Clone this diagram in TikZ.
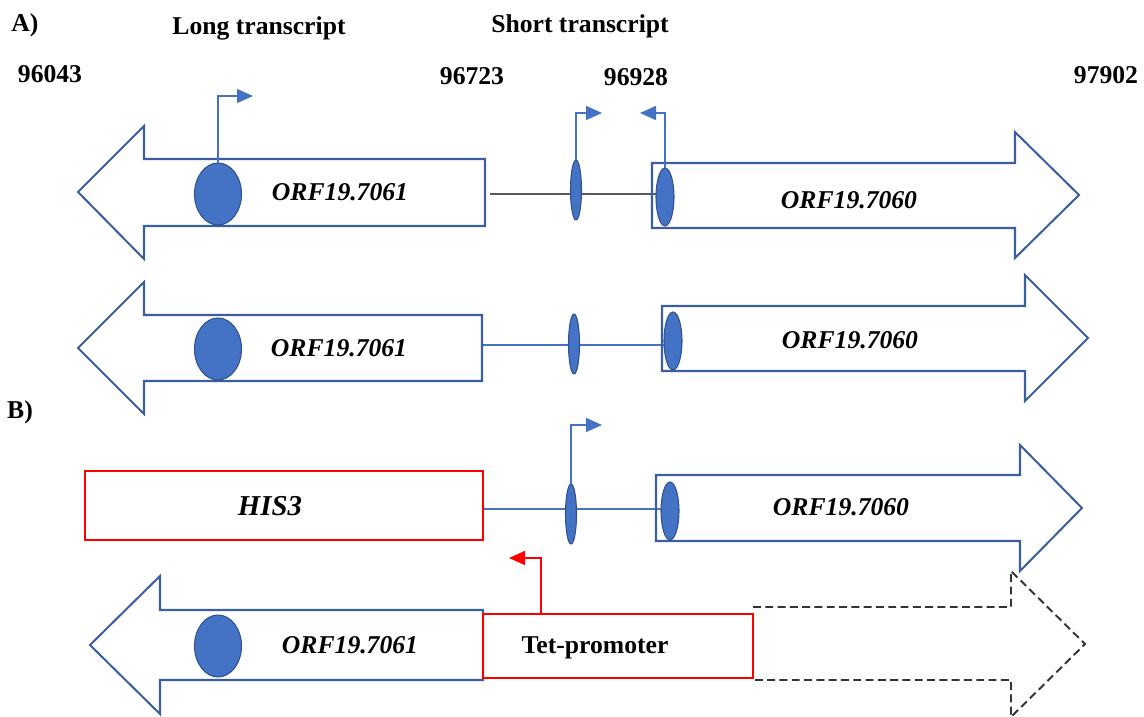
\documentclass[tikz,border=0pt]{standalone}
\usepackage{fontspec}
\setmainfont{Liberation Serif}
\usetikzlibrary{arrows.meta,shapes.geometric,backgrounds}
\definecolor{orfblue}{HTML}{3A5E9E}
\definecolor{dotblue}{HTML}{4472C4}
\definecolor{dotline}{HTML}{2F528F}
\definecolor{tetred}{HTML}{FF0000}

\begin{document}
\begin{tikzpicture}[x=0.02cm,y=-0.02cm,
	orf/.style={draw=orfblue,line width=1.15pt},
	ghost/.style={draw=black!80,line width=1.1pt,dash pattern=on 4.5pt off 2.5pt},
	redbox/.style={draw=tetred,line width=1.2pt},
	dot/.style={ellipse,fill=dotblue,draw=dotline,line width=0.6pt,inner sep=0pt,outer sep=0pt},
	bigdot/.style={dot,minimum width=0.94cm,minimum height=1.24cm},
	thindot/.style={dot,minimum width=0.22cm,minimum height=1.2cm},
	enddot/.style={dot,minimum width=0.36cm,minimum height=1.16cm},
	prom/.style={draw=dotblue,line width=0.9pt,-{Triangle[length=0.32cm,width=0.28cm]}},
	link/.style={draw=dotblue,line width=0.6pt},
	lbl/.style={font=\bfseries\fontsize{14.6}{17}\selectfont,inner sep=0pt,text height=9.6pt,text depth=0pt},
	orfname/.style={lbl,font=\bfseries\itshape\fontsize{14.6}{17}\selectfont}]
	\useasboundingbox (0,0) rectangle (1144,717);

	% labels and positions
	\node[lbl] (A) at (25,23) {A)};
	\node[lbl] (B) at (20,410) {B)};
	\node[lbl] (lt) at (259,26) {Long transcript};
	\node[lbl] (st) at (580,24) {Short transcript};
	\node[lbl] (n1) at (50,74) {96043};
	\node[lbl] (n2) at (472,76) {96723};
	\node[lbl] (n3) at (636,77) {96928};
	\node[lbl] (n4) at (1106,75) {97902};

	% row 1: wild type
	\draw[orf] (485,159) -- (144,159) -- (144,126) -- (78,192) -- (144,259) -- (144,226) -- (485,226) -- cycle;
	\draw[orf] (652,163) -- (1015,163) -- (1015,132) -- (1079,195) -- (1015,258) -- (1015,228) -- (652,228) -- cycle;
	\node[bigdot] (d1) at (218,194) {};
	\node[thindot] (s1) at (576,190) {};
	\node[enddot] (e1) at (665,197) {};
	\node[orfname] (o1) at (340,192) {ORF19.7061};
	\node[orfname] (o2) at (849,200) {ORF19.7060};
	\coordinate (a1) at (490,194);
	\coordinate (p1) at (253,96);
	\coordinate (p2) at (602,113);
	\coordinate (p3) at (640,113);
	\begin{scope}[on background layer]
		\draw[draw=black!65,line width=1.1pt] (a1) -- (a1 -| e1.west);
	\end{scope}
	\draw[prom] (d1.north) |- (p1);
	\draw[prom] (s1.north) |- (p2);
	\draw[prom] (e1.north) |- (p3);

	% row 2
	\draw[orf] (482,315) -- (144,315) -- (144,282) -- (78,348) -- (144,414) -- (144,381) -- (482,381) -- cycle;
	\draw[orf] (662,306) -- (1025,306) -- (1025,275) -- (1088,338) -- (1025,401) -- (1025,371) -- (662,371) -- cycle;
	\node[bigdot] (d2) at (218,349) {};
	\node[thindot] (s2) at (574,344) {};
	\node[enddot] (e2) at (673,341) {};
	\node[orfname] (o3) at (339,348) {ORF19.7061};
	\node[orfname] (o4) at (850,340) {ORF19.7060};
	\coordinate (a2) at (482,345);
	\begin{scope}[on background layer]
		\draw[link] (a2) -- (a2 -| e2.west);
	\end{scope}

	% row 3: HIS3 replacement
	\draw[redbox] (85,471) rectangle (483,540);
	\node[orfname,font=\bfseries\itshape\fontsize{16.4}{19}\selectfont,text height=10.8pt] (his) at (270,506) {HIS3};
	\draw[orf] (656,475) -- (1020,475) -- (1020,445) -- (1082,508) -- (1020,571) -- (1020,541) -- (656,541) -- cycle;
	\node[thindot] (s3) at (571,514) {};
	\node[enddot] (e3) at (670,511) {};
	\node[orfname] (o5) at (841,507) {ORF19.7060};
	\coordinate (a3) at (483,509);
	\coordinate (p4) at (602,425);
	\begin{scope}[on background layer]
		\draw[link] (a3) -- (a3 -| e3.west);
	\end{scope}
	\draw[prom] (s3.north) |- (p4);

	% row 4: Tet-promoter
	\draw[orf] (483,610) -- (160,610) -- (160,576) -- (90,645) -- (160,714) -- (160,680) -- (483,680) -- cycle;
	\node[bigdot] (d4) at (218,646) {};
	\node[orfname] (o6) at (350,645) {ORF19.7061};
	\draw[ghost] (753,607) -- (1011,607) -- (1011,571) -- (1085,644) -- (1011,717) -- (1011,680) -- (753,680);
	\draw[redbox] (483,614) rectangle (753,678);
	\node[lbl] (tet) at (595,645) {Tet-promoter};
	\coordinate (t0) at (541,614);
	\coordinate (p5) at (509,558);
	\draw[prom,draw=tetred,-{Triangle[length=0.32cm,width=0.28cm]}] (t0) |- (p5);
\end{tikzpicture}
\end{document}
